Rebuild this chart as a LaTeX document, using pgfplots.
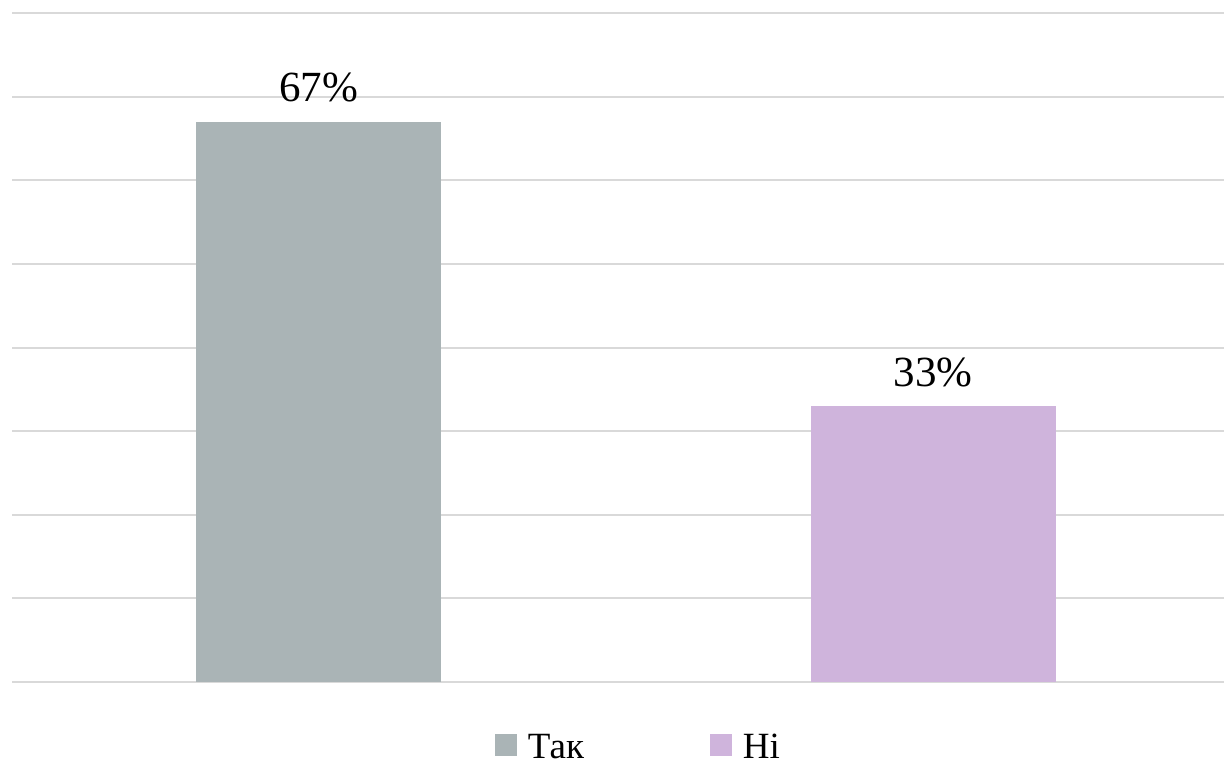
\documentclass[border=0pt]{standalone}
\usepackage{pgfplots}
\pgfplotsset{compat=1.18}
\usepackage{fontspec}
\setmainfont{Liberation Serif}
\definecolor{gridc}{RGB}{217,217,217}
\definecolor{takc}{RGB}{170,180,182}
\definecolor{nic}{RGB}{207,180,220}
\begin{document}
\begin{tikzpicture}
\begin{axis}[
  at={(6bp,-341bp)}, anchor=south west,
  scale only axis, width=606bp, height=334.5bp,
  xmin=-0.4988, xmax=1.4735, ymin=0, ymax=80,
  ytick={0,10,...,80}, yticklabels={}, xtick=\empty,
  ymajorgrids, grid style={gridc, line width=1bp},
  axis line style={draw=none}, major tick length=0pt,
  ybar, bar width=122.5bp, bar shift=0pt,
  /pgf/number format/assume math mode=true,
  nodes near coords={\pgfmathprintnumber{\pgfplotspointmeta}\%},
  every node near coord/.append style={font=\fontsize{21.5bp}{24bp}\selectfont, anchor=base, yshift=10bp, text=black},
  legend style={at={(axis description cs:0.5177,-0.0987)}, anchor=center, draw=none, fill=none, legend columns=2,
    font=\fontsize{18.5bp}{22bp}\selectfont},
  legend image code/.code={\fill[#1, draw=none] (0bp,-4bp) rectangle (11bp,7bp);},
  legend cell align=left,
  legend style={/tikz/every even column/.append style={column sep=61bp},
                /tikz/every odd column/.append style={column sep=3.5bp}},
]
\addplot[fill=takc, draw=none] coordinates {(0,67)};
\addlegendentry{Так}
\addplot[fill=nic, draw=none] coordinates {(1,33)};
\addlegendentry{Ні}
\end{axis}
\pgfresetboundingbox
\path (0,0) rectangle (612bp,-383.5bp);
\end{tikzpicture}
\end{document}
